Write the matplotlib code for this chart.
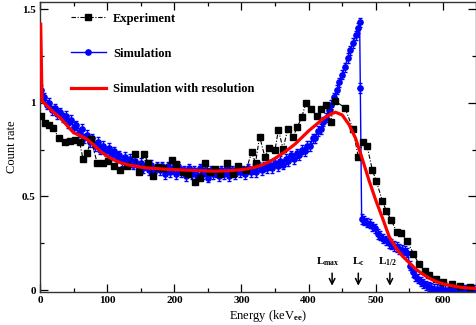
import matplotlib
matplotlib.use("Agg")
import matplotlib.pyplot as plt
from matplotlib.ticker import MultipleLocator

plt.rcParams["font.family"] = "Liberation Serif"
plt.rcParams["font.weight"] = "bold"
plt.rcParams["mathtext.fontset"] = "custom"
plt.rcParams["mathtext.rm"] = "Liberation Serif:bold"
plt.rcParams["mathtext.it"] = "Liberation Serif:bold"
plt.rcParams["mathtext.bf"] = "Liberation Serif:bold"

# experiment (black squares)
exp_energy = [1, 7, 13, 19, 29, 37, 44, 52, 59, 64, 70, 76, 85, 94, 101, 110, 119, 130,
              141, 147, 155, 161, 169, 176, 183, 196, 203, 213, 220, 231, 238, 246, 253,
              260, 268, 279, 288, 295, 307, 315, 321, 327, 335, 341, 350, 355, 362, 369,
              377, 383, 390, 396, 404, 412, 419, 426, 433, 439, 454, 466, 474, 481, 487,
              495, 501, 510, 516, 523, 531, 538, 547, 556, 564, 573, 580, 590, 600, 613,
              625, 640]
exp_rate = [0.93, 0.89, 0.88, 0.865, 0.81, 0.79, 0.795, 0.80, 0.79, 0.70, 0.73, 0.805, 0.68,
            0.68, 0.69, 0.66, 0.64, 0.66, 0.725, 0.63, 0.727, 0.68, 0.61, 0.655, 0.65, 0.695,
            0.675, 0.63, 0.62, 0.576, 0.60, 0.68, 0.63, 0.647, 0.62, 0.68, 0.62, 0.665, 0.64,
            0.735, 0.68, 0.82, 0.71, 0.76, 0.75, 0.855, 0.755, 0.86, 0.82, 0.87, 0.925, 1.00,
            0.965, 0.93, 0.965, 0.99, 0.90, 1.01, 0.975, 0.86, 0.71, 0.79, 0.77, 0.64, 0.58,
            0.475, 0.42, 0.375, 0.31, 0.305, 0.26, 0.195, 0.14, 0.10, 0.08, 0.057, 0.045,
            0.03, 0.02, 0.015]

# simulation (blue)
sim_energy = list(range(2, 475, 4)) + [476, 477, 479] + list(range(483, 648, 4))
sim_rate = [1.07, 1.03, 0.99, 1.00, 0.96, 0.97, 0.94, 0.95, 0.92, 0.93,
            0.89, 0.91, 0.87, 0.88, 0.84, 0.86, 0.81, 0.83, 0.79, 0.81,
            0.77, 0.79, 0.75, 0.77, 0.74, 0.76, 0.72, 0.74, 0.71, 0.72,
            0.69, 0.71, 0.68, 0.70, 0.67, 0.69, 0.66, 0.68, 0.65, 0.67,
            0.64, 0.67, 0.63, 0.66, 0.64, 0.66, 0.62, 0.66, 0.63, 0.65,
            0.62, 0.66, 0.63, 0.64, 0.61, 0.65, 0.62, 0.64, 0.61, 0.65,
            0.62, 0.64, 0.60, 0.64, 0.62, 0.63, 0.61, 0.64, 0.62, 0.65,
            0.61, 0.64, 0.62, 0.65, 0.63, 0.64, 0.62, 0.65, 0.63, 0.65,
            0.63, 0.66, 0.64, 0.66, 0.65, 0.67, 0.65, 0.68, 0.66, 0.69,
            0.67, 0.70, 0.69, 0.72, 0.70, 0.73, 0.72, 0.75, 0.74, 0.77,
            0.77, 0.81, 0.81, 0.85, 0.86, 0.90, 0.92, 0.96, 0.99, 1.03,
            1.07, 1.11, 1.15, 1.19, 1.24, 1.28, 1.32, 1.36, 1.40,
            1.43, 1.08, 0.38,
            0.37, 0.36, 0.355, 0.34, 0.33, 0.30, 0.29, 0.275, 0.265, 0.25,
            0.245, 0.235, 0.23, 0.22, 0.215, 0.21, 0.20, 0.13, 0.095, 0.075,
            0.06, 0.045, 0.035, 0.025, 0.018, 0.012, 0.008, 0.005, 0.003, 0.002,
            0.001, 0.001, 0, 0, 0, 0, 0, 0, 0, 0, 0, 0]
sim_err = 0.025

# simulation with resolution (red)
res_energy = [1, 3, 10, 20, 30, 40, 50, 60, 70, 80, 90, 100, 110, 120, 130, 140, 150, 160,
              180, 200, 220, 240, 260, 280, 300, 310, 320, 330, 340, 350, 360, 370, 380,
              390, 400, 410, 420, 430, 440, 450, 460, 470, 480, 490, 500, 510, 520, 530,
              540, 550, 560, 570, 580, 590, 600, 610, 620, 630, 640, 650]
res_rate = [1.42, 1.01, 0.985, 0.95, 0.92, 0.88, 0.84, 0.825, 0.805, 0.775, 0.74, 0.715,
            0.695, 0.68, 0.67, 0.663, 0.657, 0.652, 0.647, 0.643, 0.64, 0.637, 0.635, 0.637,
            0.643, 0.648, 0.656, 0.667, 0.683, 0.703, 0.727, 0.752, 0.78, 0.815, 0.85, 0.88,
            0.91, 0.935, 0.95, 0.935, 0.885, 0.81, 0.70, 0.585, 0.48, 0.385, 0.285, 0.225,
            0.18, 0.145, 0.11, 0.085, 0.062, 0.045, 0.033, 0.025, 0.018, 0.013, 0.01, 0.008]

# edge markers
edge_energy = [435, 474, 521]
edge_labels = ["L$_{max}$", "L$_{c}$", "L$_{1/2}$"]

fig = plt.figure(figsize=(4.77, 3.25), dpi=100)
ax = fig.add_axes([0.0839, 0.1025, 0.915, 0.8915])

ax.errorbar(sim_energy, sim_rate, yerr=sim_err, fmt="none", ecolor="blue",
            elinewidth=0.9, capsize=1.3, zorder=1)
ax.plot(sim_energy, sim_rate, color="blue", lw=1, marker="o", ms=3.8,
        label="Simulation", zorder=2)
ax.plot(exp_energy, exp_rate, color="black", lw=0.8, ls=(0, (4, 1.5, 1, 1.5)),
        marker="s", ms=4.8, label="Experiment", zorder=3)
ax.plot(res_energy, res_rate, color="red", lw=2.3, label="Simulation with resolution",
        zorder=4)

for e, lab, dx in zip(edge_energy, edge_labels, [-7, 0, -4]):
    ax.annotate("", xy=(e, 0.008), xytext=(e, 0.105),
                arrowprops=dict(arrowstyle="->", lw=1.1, color="black"))
    ax.text(e + dx, 0.12, lab, ha="center", va="bottom", fontsize=8)

ax.set_xlim(0, 650)
ax.set_ylim(-0.009, 1.539)
ax.xaxis.set_major_locator(MultipleLocator(100))
ax.xaxis.set_minor_locator(MultipleLocator(50))
ax.yaxis.set_minor_locator(MultipleLocator(0.25))
ax.set_yticks([0, 0.5, 1, 1.5])
ax.set_yticklabels(["0", "0.5", "1", "1.5"])
ax.tick_params(which="both", direction="in", top=True, right=True, labelsize=8, pad=3)
ax.tick_params(which="major", length=6, width=0.9)
ax.tick_params(which="minor", length=3, width=0.9)
for lbl in ax.get_xticklabels() + ax.get_yticklabels():
    lbl.set_fontweight("bold")
for s in ax.spines.values():
    s.set_linewidth(1.0)
    s.set_color("#333333")

ax.set_xlabel("Energy (keV$_{ee}$)", fontsize=9)
ax.xaxis.set_label_coords(0.522, -0.055)
ax.set_ylabel("Count rate", fontsize=9, labelpad=3)

handles, labels = ax.get_legend_handles_labels()
order = [1, 0, 2]
ax.legend([handles[i] for i in order], [labels[i] for i in order],
          loc="upper left", bbox_to_anchor=(0.07, 0.963), frameon=False,
          fontsize=9, handlelength=2.8, handletextpad=0.6, labelspacing=1.85,
          numpoints=1, borderpad=0, borderaxespad=0)

fig.savefig("out.png", dpi=100)
